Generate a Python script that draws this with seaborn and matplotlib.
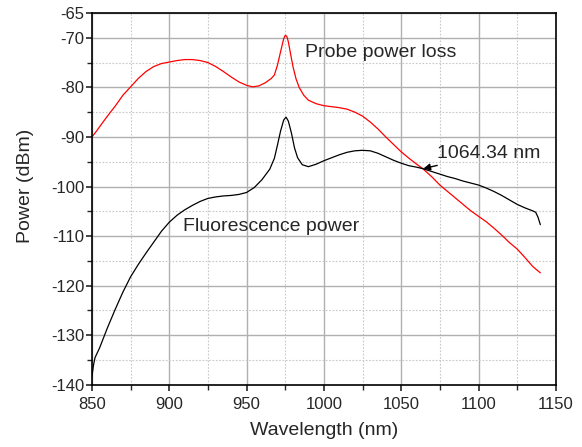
import numpy as np
import pandas as pd
import matplotlib
matplotlib.use('Agg')
import matplotlib.pyplot as plt
import seaborn as sns
from matplotlib.ticker import MultipleLocator, FixedLocator

# Probe power loss (red curve)
probe_wl = [850, 853, 856, 860, 865, 870, 875, 880, 885, 890, 895, 900, 905, 910, 915,
            920, 925, 930, 935, 940, 945, 950, 954, 958, 962, 966, 968, 970, 972, 974,
            975, 976, 977, 978, 980, 982, 984, 987, 990, 995, 1000, 1005, 1010, 1015,
            1020, 1025, 1030, 1035, 1040, 1045, 1050, 1055, 1060, 1064, 1070, 1075,
            1080, 1085, 1090, 1095, 1100, 1105, 1110, 1115, 1120, 1125, 1130, 1135,
            1138, 1140]
probe_db = [-90.0, -88.8, -87.5, -85.8, -83.8, -81.6, -79.9, -78.2, -76.8, -75.8, -75.2,
            -74.9, -74.6, -74.4, -74.4, -74.6, -75.0, -75.8, -76.8, -77.9, -78.9, -79.6,
            -79.9, -79.7, -79.1, -78.2, -77.5, -75.5, -72.8, -70.2, -69.5, -69.7, -70.8,
            -72.5, -75.8, -78.3, -80.0, -81.6, -82.6, -83.3, -83.7, -83.9, -84.1, -84.4,
            -85.0, -85.8, -87.0, -88.4, -90.0, -91.5, -93.0, -94.3, -95.5, -96.4, -98.1,
            -99.7, -101.0, -102.3, -103.6, -104.9, -106.0, -107.1, -108.4, -109.8,
            -111.3, -112.6, -114.3, -116.1, -116.9, -117.4]

# Fluorescence power (black curve)
fluo_wl = [850, 851, 852, 855, 860, 865, 870, 875, 880, 885, 890, 895, 900, 905, 910,
           915, 920, 925, 930, 935, 940, 945, 950, 955, 960, 965, 968, 970, 972, 974,
           975.5, 977, 979, 981, 983, 986, 990, 995, 1000, 1005, 1010, 1015, 1020, 1025,
           1030, 1035, 1040, 1045, 1050, 1055, 1060, 1064, 1070, 1075, 1080, 1085, 1090,
           1095, 1100, 1105, 1110, 1115, 1120, 1125, 1130, 1135, 1137, 1138.5, 1140]
fluo_db = [-138.3, -136.0, -134.5, -132.5, -128.5, -124.8, -121.3, -118.2, -115.7, -113.4,
           -111.2, -109.0, -107.2, -105.8, -104.7, -103.8, -103.0, -102.4, -102.1, -101.9,
           -101.8, -101.6, -101.2, -100.2, -98.6, -96.5, -94.3, -91.6, -88.8, -86.6, -86.0,
           -86.8, -89.2, -92.2, -94.2, -95.6, -96.0, -95.5, -94.8, -94.2, -93.6, -93.1,
           -92.8, -92.7, -92.8, -93.3, -94.0, -94.7, -95.3, -95.8, -96.1, -96.4, -97.0,
           -97.5, -98.0, -98.4, -98.9, -99.3, -99.7, -100.3, -101.0, -101.8, -102.7,
           -103.6, -104.3, -104.9, -105.2, -106.2, -107.7]

cross_wl = 1064.34
cross_db = -96.4

y_ticks = [-140, -130, -120, -110, -100, -90, -80, -70, -65]

sns.set_style('ticks')
plt.rcParams['font.family'] = ['Liberation Sans', 'DejaVu Sans']

fig = plt.figure(figsize=(5.82, 4.47), dpi=100)
ax = fig.add_axes([0.158, 0.139, 0.797, 0.832])

df_probe = pd.DataFrame({'wl': probe_wl, 'db': probe_db})
df_fluo = pd.DataFrame({'wl': fluo_wl, 'db': fluo_db})
sns.lineplot(data=df_probe, x='wl', y='db', color='#ff0000', lw=0.9,
             estimator=None, sort=False, ax=ax)
sns.lineplot(data=df_fluo, x='wl', y='db', color='black', lw=0.9,
             estimator=None, sort=False, ax=ax)

ax.set_xlim(850, 1150)
ax.set_ylim(-140, -65)
ax.xaxis.set_major_locator(MultipleLocator(50))
ax.xaxis.set_minor_locator(MultipleLocator(25))
ax.yaxis.set_major_locator(FixedLocator(y_ticks))
ax.yaxis.set_minor_locator(FixedLocator([-135, -125, -115, -105, -95, -85, -75]))
ax.set_yticklabels([str(t) for t in y_ticks])

ax.grid(which='major', color='#b0b0b0', lw=1.0, ls='-')
ax.grid(which='minor', color='#c8c8c8', lw=0.8, ls=(0, (1.5, 1.5)))
ax.set_axisbelow(True)

ax.tick_params(which='major', direction='out', length=4.5, width=1.2, labelsize=12)
ax.tick_params(which='minor', direction='out', length=3.5, width=1.0)
ax.tick_params(axis='x', which='major', pad=4.5)
ax.tick_params(axis='y', which='major', pad=1)
for s in ax.spines.values():
    s.set_linewidth(1.2)
    s.set_color('black')

ax.set_xlabel('Wavelength (nm)', fontsize=14)
ax.set_ylabel('Power (dBm)', fontsize=14)
ax.xaxis.set_label_coords(0.5, -0.1)
ax.yaxis.set_label_coords(-0.144, 0.536)
ax.xaxis.label.set_va('top')
ax.yaxis.label.set_va('center')

ax.text(988, -73, 'Probe power loss', fontsize=14, va='center', ha='left')
ax.text(909, -108, 'Fluorescence power', fontsize=14, va='center', ha='left')
ax.annotate('1064.34 nm', xy=(cross_wl, cross_db), xytext=(1073, -93.3),
            fontsize=14, va='center', ha='left',
            arrowprops=dict(arrowstyle='-|>', color='black', lw=1.0,
                            shrinkA=1, shrinkB=0, mutation_scale=10))

fig.savefig('out.png', dpi=100)
